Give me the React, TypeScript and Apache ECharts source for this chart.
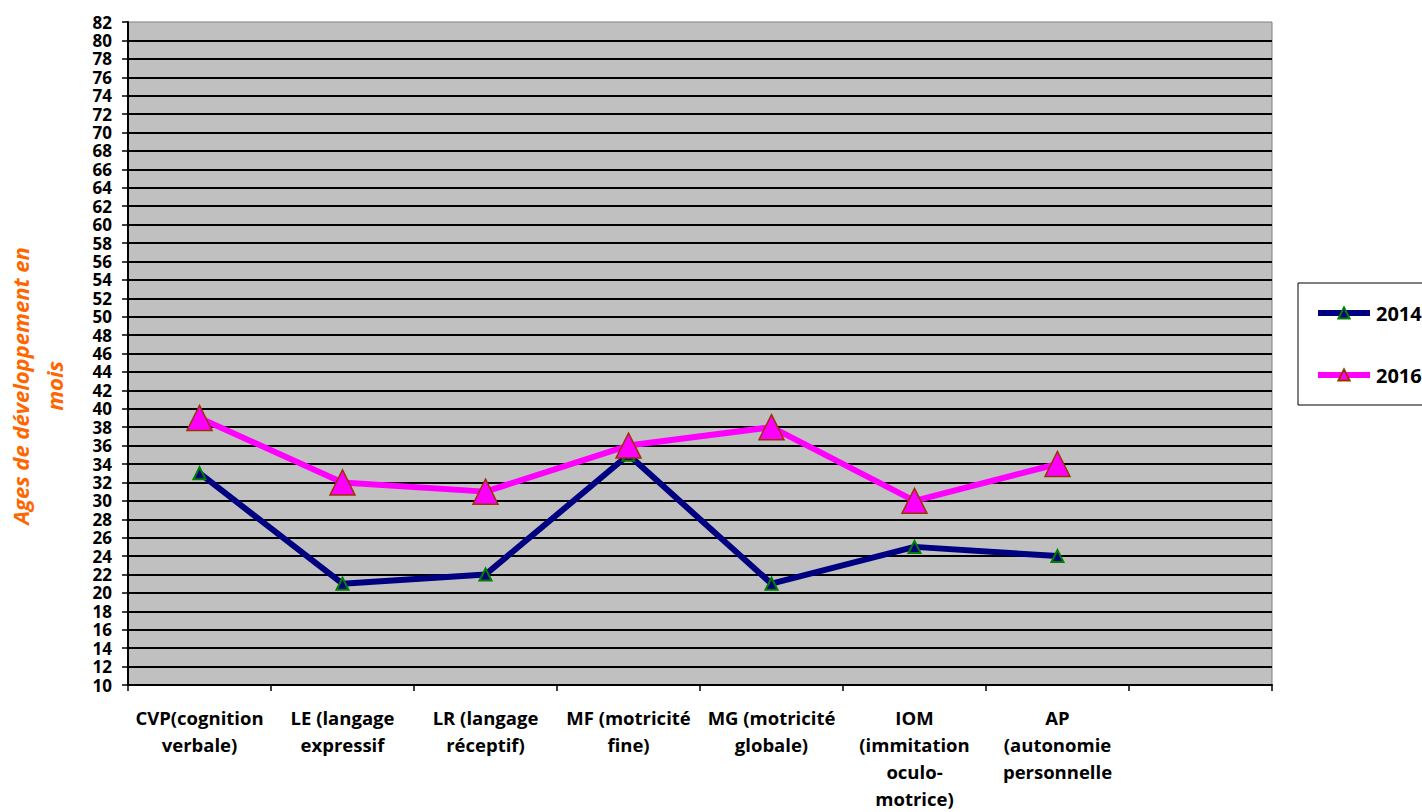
import React, { useEffect, useRef } from "react";
import * as echarts from "echarts";

const categories = [
  "CVP(cognition\nverbale)",
  "LE (langage\nexpressif",
  "LR (langage\nréceptif)",
  "MF (motricité\nfine)",
  "MG (motricité\nglobale)",
  "IOM\n(immitation\noculo-\nmotrice)",
  "AP\n(autonomie\npersonnelle",
  "",
];
const values2014 = [33, 21, 22, 35, 21, 25, 24];
const values2016 = [39, 32, 31, 36, 38, 30, 34];
const yMin = 10;
const yMax = 82;
const yStep = 2;
const yAxisTitle = "Ages de développement en\nmois";

const FONT = "'Open Sans', 'Noto Sans', sans-serif";

export default function App() {
  const ref = useRef<HTMLDivElement>(null);
  useEffect(() => {
    if (!ref.current) return;
    const chart = echarts.init(ref.current, undefined, { renderer: "svg" });
    chart.setOption({
      animation: false,
      backgroundColor: "#ffffff",
      grid: {
        left: 128,
        right: 150,
        top: 22,
        bottom: 124,
        show: true,
        backgroundColor: "#C0C0C0",
        borderColor: "#808080",
        borderWidth: 1,
      },
      graphic: [
        {
          type: "text",
          x: 37,
          y: 386,
          rotation: Math.PI / 2,
          style: {
            text: yAxisTitle,
            textAlign: "center",
            textVerticalAlign: "middle",
            fontFamily: FONT,
            fontWeight: "bold",
            fontStyle: "italic",
            fontSize: 22,
            lineHeight: 34,
            fill: "#FF6600",
          },
        },
      ],
      legend: {
        left: 1298,
        top: 283,
        orient: "vertical",
        borderColor: "#000",
        borderWidth: 1,
        padding: [18, 40, 18, 17],
        itemGap: 38,
        itemWidth: 52,
        itemHeight: 14,
        lineStyle: { width: 6 },
        textStyle: {
          fontFamily: FONT,
          fontWeight: "bold",
          fontSize: 20,
          lineHeight: 24,
          color: "#000",
          padding: [0, 0, 0, 1],
        },
        data: ["2014", "2016"],
      },
      xAxis: {
        type: "category",
        data: categories,
        boundaryGap: true,
        axisLine: { lineStyle: { color: "#000", width: 2 } },
        axisTick: { show: true, length: 6, lineStyle: { color: "#000", width: 1.5 } },
        axisLabel: {
          interval: 0,
          margin: 19,
          fontFamily: FONT,
          fontWeight: "bold",
          fontSize: 18.5,
          lineHeight: 27,
          color: "#000",
        },
        splitLine: { show: false },
      },
      yAxis: {
        type: "value",
        min: yMin,
        max: yMax,
        interval: yStep,
        axisLine: { show: true, lineStyle: { color: "#000", width: 2 } },
        axisTick: { show: true, length: 6, lineStyle: { color: "#000", width: 1.5 } },
        axisLabel: {
          margin: 16,
          fontFamily: FONT,
          fontWeight: "bold",
          fontSize: 17,
          lineHeight: 16,
          color: "#000",
        },
        splitLine: {
          show: true,
          showMaxLine: false,
          lineStyle: { color: "#000", width: 2 },
        },
      },
      series: [
        {
          name: "2014",
          type: "line",
          data: values2014,
          symbol: "triangle",
          symbolSize: 12,
          lineStyle: { color: "#000080", width: 6 },
          itemStyle: { color: "#000080", borderColor: "#008000", borderWidth: 2 },
        },
        {
          name: "2016",
          type: "line",
          data: values2016,
          symbol: "triangle",
          symbolSize: 25,
          lineStyle: { color: "#FF00FF", width: 6 },
          itemStyle: { color: "#FF00FF", borderColor: "#993300", borderWidth: 1.5 },
        },
      ],
    });
    return () => chart.dispose();
  }, []);
  return <div ref={ref} style={{ width: 1422, height: 812, position: "absolute", left: 0, top: 0 }} />;
}
